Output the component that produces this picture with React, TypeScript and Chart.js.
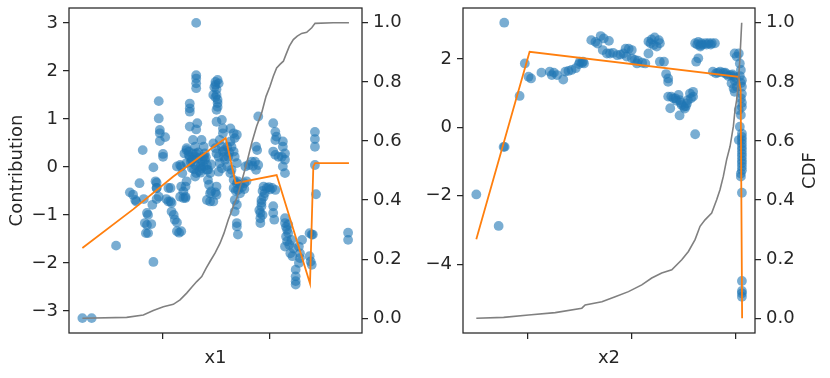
import React, { useEffect, useRef } from 'react';
import { Chart, registerables } from 'chart.js';
Chart.register(...registerables);

const FONT = "'DejaVu Sans', sans-serif";
const INK = '#262626';
const POINT = 'rgba(31,119,180,0.6)';
const ORANGE = '#ff7f0e';
const GREY = '#808080';

// ---------- panel 1 : x1 ----------
const x1Samples = [
  -0.754, -0.667, -0.439, -0.09, -0.19, -0.04, -0.04, -0.03, -0.03, -0.03, 0.02, 0.0, 0.0, -0.09, -0.22,
  -0.31, -0.28, -0.26, -0.25, -0.18, -0.15, -0.14, -0.17, -0.15, -0.11, -0.16, -0.14, -0.07, -0.06, -0.06,
  -0.06, -0.1, 0.03, 0.05, 0.07, 0.08, 0.1, 0.11, 0.13, 0.13, 0.15, 0.17, 0.16, 0.17, 0.17,
  0.19, 0.21, 0.21, 0.18, 0.22, 0.24, 0.25, 0.27, 0.25, 0.25, 0.25, 0.25, 0.31, 0.31, 0.31,
  0.31, 0.31, 0.32, 0.31, 0.28, 0.3, 0.31, 0.33, 0.35, 0.36, 0.31, 0.35, 0.36, 0.38, 0.39,
  0.41, 0.42, 0.44, 0.42, 0.43, 0.41, 0.44, 0.47, 0.45, 0.49, 0.5, 0.49, 0.49, 0.51, 0.52,
  0.5, 0.51, 0.51, 0.5, 0.47, 0.5, 0.47, 0.49, 0.5, 0.52, 0.55, 0.56, 0.56, 0.53, 0.55,
  0.56, 0.57, 0.58, 0.53, 0.55, 0.52, 0.63, 0.66, 0.67, 0.63, 0.64, 0.66, 0.67, 0.69, 0.64,
  0.63, 0.66, 0.69, 0.72, 0.76, 0.78, 0.66, 0.7, 0.72, 0.67, 0.69, 0.67, 0.69, 0.69, 0.7,
  0.77, 0.8, 0.83, 0.84, 0.87, 0.89, 0.86, 0.87, 0.88, 0.89, 0.94, 0.97, 1.02, 1.05, 0.95,
  0.94, 0.92, 0.92, 0.91, 0.91, 0.91, 1.03, 1.05, 1.06, 1.05, 1.03, 1.05, 1.08, 1.11, 1.03,
  1.03, 1.04, 1.12, 1.12, 1.14, 1.14, 1.12, 1.14, 1.14, 1.14, 1.16, 1.15, 1.14, 1.17, 1.2,
  1.19, 1.21, 1.24, 1.24, 1.24, 1.24, 1.27, 1.28, 1.28, 1.3, 1.27, 1.37, 1.39, 1.4, 1.37,
  1.38, 1.39, 1.42, 1.42, 1.42, 1.42, 1.43, 1.73, 1.73, 0.13, 0.27, 0.3, 0.38, 0.39, 0.22,
  0.28, 0.38, 0.22, 0.3, 0.6, 0.61, 0.6, 0.69, 0.22, 0.27, 0.3, 0.35, 0.41, 0.16, 0.19,
  0.21, 0.44, 0.5, -0.06, -0.04, 0.05, 0.07, 0.08,
  0.5, 0.49, 0.51, 0.48, 1.16, 1.18, 1.22, 1.15, 1.17, 0.93, 0.92, 0.9, 0.93, 0.7, 0.74,
  0.68, 0.76, 0.99, 1.0, 0.26, 0.33, 0.37, 0.29, 0.24, 0.4, 0.34, 0.2, 0.45, 0.57, 0.62,
];
const x1Contrib = [
  -3.15, -3.15, -1.64, -1.98, 0.35, 1.37, 1.01, 0.77, 0.7, 0.54, 0.62, 0.27, 0.21, -0.01, -0.34,
  -0.53, -0.58, -0.69, -0.72, -0.67, -0.96, -1.0, -1.17, -1.21, -1.19, -1.38, -1.38, -0.3, -0.33, -0.44,
  -0.67, -0.79, -0.67, -0.72, -0.44, -0.93, -1.0, -1.1, -1.16, -1.34, -1.37, -1.34, 0.04, 0.01, -0.41,
  -0.51, -0.62, -0.65, -0.13, 0.39, 0.32, 0.21, 0.15, 1.32, 1.22, 1.15, 0.84, 3.0, 1.91, 1.84,
  1.74, 1.64, 0.91, 0.78, 0.56, 0.42, 0.28, 0.18, 0.08, -0.03, -0.13, -0.12, 0.56, 0.42, 0.28,
  0.04, -0.06, -0.13, -0.27, -0.37, -0.69, -0.72, -0.72, -0.51, -0.53, -0.41, 1.77, 1.71, 1.81, 1.74,
  1.5, 1.4, 1.33, 1.19, 1.5, 0.94, 0.49, 0.39, 0.28, 0.21, 0.98, 0.8, 0.7, 0.56, 0.42,
  0.32, 0.21, 0.15, 0.08, -0.03, -0.1, 0.8, 0.7, 0.6, 0.53, 0.42, 0.32, 0.21, 0.08, -0.06,
  -0.13, -0.27, -0.34, -0.37, -0.34, -0.3, -0.44, -0.48, -0.55, -0.69, -0.79, -0.93, -1.17, -1.24, -1.41,
  0.01, 0.04, 0.11, 0.02, -0.06, 0.04, 0.11, 0.42, 0.35, 1.05, -0.41, -0.44, -0.44, -0.48, -0.55,
  -0.62, -0.69, -0.82, -0.96, -1.07, -1.17, 0.91, 0.73, 0.63, 0.56, 0.32, 0.25, 0.21, 0.21, -0.82,
  -0.96, -1.1, 0.53, 0.42, 0.28, 0.15, 0.01, -0.13, -1.07, -1.17, -1.31, -1.45, -1.66, -1.38, -1.52,
  -1.8, -1.86, -2.14, -2.28, -2.38, -2.45, -1.66, -1.8, -1.9, -1.52, -2.0, -1.38, -1.41, -1.41, -1.86,
  -1.97, -2.04, 0.73, 0.58, 0.42, 0.04, -0.57, -1.37, -1.52, 0.01, -0.03, 0.04, 0.01, 0.15, 0.08,
  0.28, 0.21, -0.3, -0.2, 0.42, 0.21, 0.01, 0.67, 0.35, 0.15, 0.21, 0.01, -0.06, -0.62, -0.65,
  -0.41, -0.55, -0.58, -0.44, -0.62, -0.44, -0.72, -0.75,
  1.62, 1.45, 1.25, 1.66, -1.55, -1.62, -1.7, -1.25, -1.2, -0.5, -0.75, -0.9, -1.0, -0.3, -0.42,
  -0.5, -0.46, -0.42, -0.47, 0.1, 0.3, 0.12, -0.05, 0.25, 0.2, -0.08, 0.28, 0.05, 0.35, 0.3,
];
const x1PdpX = [-0.754, -0.277, 0.096, 0.346, 0.586, 0.679, 1.062, 1.374, 1.405, 1.421, 1.738];
const x1PdpY = [-1.69, -0.88, -0.2, 0.21, 0.6, -0.34, -0.17, -2.43, 0.01, 0.08, 0.08];
const x1CdfX = [
  -0.754, -0.34, -0.184, -0.091, 0.003, 0.096, 0.159, 0.221, 0.268, 0.315, 0.362, 0.402, 0.439, 0.486,
  0.533, 0.57, 0.61, 0.657, 0.695, 0.735, 0.782, 0.829, 0.875, 0.922, 0.963, 1.0, 1.031, 1.062,
  1.093, 1.125, 1.15, 1.181, 1.218, 1.255, 1.296, 1.343, 1.39, 1.421, 1.592, 1.738,
];
const x1CdfY = [
  0.0, 0.003, 0.011, 0.026, 0.039, 0.047, 0.062, 0.085, 0.105, 0.124, 0.141, 0.169, 0.192, 0.22,
  0.254, 0.288, 0.333, 0.378, 0.412, 0.463, 0.525, 0.593, 0.65, 0.695, 0.751, 0.785, 0.819, 0.847,
  0.859, 0.87, 0.893, 0.921, 0.943, 0.955, 0.964, 0.968, 0.983, 0.998, 1.0, 1.0,
];
const x1TickValues = [0, 1];
const contrib1Ticks = [-3, -2, -1, 0, 1, 2, 3];

// ---------- panel 2 : x2 ----------
const x2Samples = [
  -0.497, -0.282, -0.228, -0.234, -0.224, -0.08, -0.03, 0.006, 0.03, 0.13, 0.21, 0.25, 0.28, 0.23, 0.34,
  0.36, 0.39, 0.42, 0.46, 0.49, 0.52, 0.54, 0.5, 0.53, 0.61, 0.65, 0.67, 0.7, 0.73, 0.78,
  0.72, 0.76, 0.79, 0.82, 0.86, 0.89, 0.92, 0.94, 0.97, 1.0, 0.95, 1.0, 1.03, 1.06, 1.1,
  1.13, 1.05, 1.16, 1.18, 1.19, 1.22, 1.26, 1.27, 1.21, 1.24, 1.16, 1.27, 1.31, 1.33, 1.35,
  1.35, 1.35, 1.38, 1.42, 1.45, 1.37, 1.46, 1.48, 1.5, 1.53, 1.46, 1.51, 1.54, 1.56, 1.59,
  1.59, 1.61, 1.61, 1.64, 1.67, 1.71, 1.74, 1.77, 1.8, 1.62, 1.64, 1.66, 1.78, 1.81, 1.85,
  1.88, 1.91, 1.95, 1.98, 1.99, 1.96, 1.98, 1.99, 2.01, 1.99, 2.01, 2.03, 2.04, 2.05, 2.06,
  2.06, 2.05, 2.06, 2.05, 2.06, 2.06, 2.06, 2.06, 2.06, 2.06, 2.05, 2.06, 2.03, 2.04, 2.03,
  2.06, 2.06, 2.06, 2.06, 2.06, 2.06, 2.06, 2.06, 2.06, 2.06, 2.05, 2.04, 2.05, 2.06, 2.06,
  1.63, 1.68, 1.72, 1.76, 1.66, 1.83, 1.9, 1.93, 1.97, 2.0, 1.4, 1.47, 1.52, 1.57, 1.43,
];
const x2Contrib = [
  -1.96, -2.88, 3.06, -0.57, -0.57, 0.92, 1.87, 1.48, 1.43, 1.6, 1.63, 1.6, 1.53, 1.53, 1.4,
  1.63, 1.65, 1.68, 1.73, 1.85, 1.89, 1.87, 1.92, 1.92, 2.55, 2.5, 2.45, 2.67, 2.6, 2.53,
  2.26, 2.16, 2.16, 2.18, 2.11, 2.13, 2.16, 2.3, 2.3, 2.26, 2.07, 2.02, 1.97, 1.95, 1.89,
  1.87, 1.87, 2.16, 2.46, 2.57, 2.63, 2.55, 2.46, 2.41, 2.36, 2.51, 1.92, 1.92, 1.56, 1.43,
  1.33, 0.9, 0.9, 0.85, 0.95, 0.56, 0.8, 0.65, 0.6, 0.7, 0.35, 0.55, 0.8, 0.99, 1.04,
  0.9, -0.2, 2.46, 2.5, 2.46, 2.46, 2.46, 2.46, 2.46, 1.92, 2.02, 2.36, 1.63, 1.58, 1.63,
  1.6, 1.56, 1.53, 1.5, 1.38, 1.29, 1.14, 1.04, 1.19, 2.16, 2.07, 2.16, 1.87, 1.68, 1.38,
  1.19, 0.85, 0.6, 0.36, -0.18, -0.37, -0.57, -0.76, -0.96, -1.15, -1.44, -1.91, 0.51, 0.02, -0.37,
  -4.49, -4.78, -4.85, -4.95, -0.28, -0.47, -0.66, -0.86, -1.05, -1.25, -1.35, 1.5, 1.3, 0.98, 0.72,
  2.42, 2.42, 2.42, 2.42, 2.4, 1.6, 1.6, 1.5, 1.55, 1.45, 0.85, 0.72, 0.62, 0.85, 0.78,
];
const x2PdpX = [-0.497, 0.016, 2.026, 2.048, 2.062];
const x2PdpY = [-3.27, 2.21, 1.48, 1.09, -5.58];
const x2CdfX = [
  -0.497, -0.234, 0.006, 0.263, 0.519, 0.551, 0.712, 0.84, 0.968, 1.096, 1.192, 1.288, 1.385, 1.481,
  1.545, 1.609, 1.657, 1.705, 1.769, 1.817, 1.849, 1.881, 1.913, 1.946, 1.978, 1.994, 2.01, 2.026,
  2.042, 2.058,
];
const x2CdfY = [
  0.0, 0.003, 0.011, 0.019, 0.034, 0.045, 0.056, 0.073, 0.09, 0.113, 0.136, 0.153, 0.164, 0.198,
  0.226, 0.266, 0.311, 0.333, 0.356, 0.401, 0.435, 0.48, 0.537, 0.582, 0.65, 0.706, 0.74, 0.797,
  0.887, 1.0,
];
const x2TickValues = [0, 1, 2];
const contrib2Ticks = [-4, -2, 0, 2];
const cdfTicks = [0, 0.2, 0.4, 0.6, 0.8, 1.0];

// ---------- helpers ----------
const zip = (xs: number[], ys: number[]) => xs.map((x, i) => ({ x, y: ys[i] }));
const fmtSigned = (v: number) => (v < 0 ? '\u2212' + Math.abs(v) : String(v));

const font = { family: FONT, size: 18 };

const gridOpts = {
  display: true,
  drawOnChartArea: false,
  drawTicks: true,
  tickLength: 6,
  tickWidth: 1.25,
  tickColor: INK,
  color: INK,
  lineWidth: 1.25,
};

const framePlugin = {
  id: 'frame',
  afterDraw(chart: any, _args: any, opts: any) {
    const { ctx, chartArea: a } = chart;
    ctx.save();
    ctx.strokeStyle = INK;
    ctx.lineWidth = 1.25;
    ctx.strokeRect(a.left, a.top, a.right - a.left, a.bottom - a.top);
    if (opts && opts.rightTitle) {
      ctx.translate(opts.rightTitleX, (a.top + a.bottom) / 2);
      ctx.rotate(-Math.PI / 2);
      ctx.font = `18px ${FONT}`;
      ctx.fillStyle = INK;
      ctx.textAlign = 'center';
      ctx.textBaseline = 'middle';
      ctx.fillText(opts.rightTitle, 0, 0);
    }
    ctx.restore();
  },
};

type PanelSpec = {
  xs: number[];
  ys: number[];
  pdpX: number[];
  pdpY: number[];
  cdfX: number[];
  cdfY: number[];
  xTicks: number[];
  yTicks: number[];
  xMin: number;
  xMax: number;
  yMin: number;
  yMax: number;
  xLabel: string;
  yLabel: string;
  rightLabel: string;
  leftW: number;
  rightW: number;
};

function buildConfig(p: PanelSpec): any {
  const zero = (s: any) => {
    s.paddingTop = 0;
    s.paddingBottom = 0;
    s.paddingLeft = 0;
    s.paddingRight = 0;
  };
  return {
    type: 'scatter',
    data: {
      datasets: [
        {
          type: 'line',
          data: zip(p.cdfX, p.cdfY),
          yAxisID: 'y2',
          borderColor: GREY,
          borderWidth: 1.6,
          pointRadius: 0,
          tension: 0,
          fill: false,
          order: 0,
        },
        {
          type: 'line',
          data: zip(p.pdpX, p.pdpY),
          yAxisID: 'y',
          borderColor: ORANGE,
          borderWidth: 1.8,
          pointRadius: 0,
          tension: 0,
          fill: false,
          order: 1,
        },
        {
          type: 'scatter',
          data: zip(p.xs, p.ys),
          yAxisID: 'y',
          backgroundColor: POINT,
          borderWidth: 0,
          pointRadius: 4.9,
          order: 2,
        },
      ],
    },
    options: {
      animation: false,
      responsive: false,
      devicePixelRatio: 1,
      events: [],
      layout: { padding: { top: 8, left: 0, right: 0, bottom: 0 } },
      plugins: {
        legend: { display: false },
        tooltip: { enabled: false },
        frame: { rightTitle: p.rightLabel, rightTitleX: 415 - 20 },
      },
      scales: {
        x: {
          type: 'linear',
          position: 'bottom',
          min: p.xMin,
          max: p.xMax,
          afterBuildTicks: (s: any) => {
            s.ticks = p.xTicks.map((v) => ({ value: v }));
          },
          ticks: { callback: () => '', padding: 0, font, color: INK, maxRotation: 0, autoSkip: false },
          grid: gridOpts,
          border: { display: false },
          title: {
            display: true,
            text: p.xLabel,
            font,
            color: INK,
            padding: { top: 0, bottom: 9 },
          },
          afterFit: (s: any) => {
            s.height = 45;
            zero(s);
          },
        },
        y: {
          type: 'linear',
          position: 'left',
          min: p.yMin,
          max: p.yMax,
          afterBuildTicks: (s: any) => {
            s.ticks = p.yTicks.map((v) => ({ value: v }));
          },
          ticks: { callback: (v: any) => fmtSigned(Number(v)), padding: 5, font, color: INK, autoSkip: false },
          grid: gridOpts,
          border: { display: false },
          title: {
            display: p.yLabel !== '',
            text: p.yLabel,
            font,
            color: INK,
            padding: { top: 6.5, bottom: 0 },
          },
          afterFit: (s: any) => {
            s.width = p.leftW;
            zero(s);
          },
        },
        y2: {
          type: 'linear',
          position: 'right',
          min: -0.05,
          max: 1.05,
          afterBuildTicks: (s: any) => {
            s.ticks = cdfTicks.map((v) => ({ value: v }));
          },
          ticks: { callback: (v: any) => Number(v).toFixed(1), padding: 5, font, color: INK, autoSkip: false },
          grid: gridOpts,
          border: { display: false },
          afterFit: (s: any) => {
            s.width = p.rightW;
            zero(s);
          },
        },
      },
    },
    plugins: [framePlugin],
  };
}

function Panel({ spec, left }: { spec: PanelSpec; left: number }) {
  const ref = useRef<HTMLCanvasElement>(null);
  useEffect(() => {
    if (!ref.current) return;
    const chart = new Chart(ref.current, buildConfig(spec));
    return () => chart.destroy();
  }, []);
  return (
    <canvas
      ref={ref}
      width={415}
      height={378}
      style={{ position: 'absolute', left, top: 0, width: 415, height: 378, display: 'block' }}
    />
  );
}

const panel1: PanelSpec = {
  xs: x1Samples,
  ys: x1Contrib,
  pdpX: x1PdpX,
  pdpY: x1PdpY,
  cdfX: x1CdfX,
  cdfY: x1CdfY,
  xTicks: x1TickValues,
  yTicks: contrib1Ticks,
  xMin: -0.879,
  xMax: 1.86,
  yMin: -3.46,
  yMax: 3.31,
  xLabel: 'x1',
  yLabel: 'Contribution',
  rightLabel: '',
  leftW: 69,
  rightW: 53,
};

const panel2: PanelSpec = {
  xs: x2Samples,
  ys: x2Contrib,
  pdpX: x2PdpX,
  pdpY: x2PdpY,
  cdfX: x2CdfX,
  cdfY: x2CdfY,
  xTicks: x2TickValues,
  yTicks: contrib2Ticks,
  xMin: -0.625,
  xMax: 2.186,
  yMin: -6.01,
  yMax: 3.49,
  xLabel: 'x2',
  yLabel: '',
  rightLabel: 'CDF',
  leftW: 48,
  rightW: 75,
};

export default function App() {
  return (
    <div style={{ position: 'absolute', left: 0, top: 0, width: 830, height: 378, background: '#fff' }}>
      <Panel spec={panel1} left={0} />
      <Panel spec={panel2} left={415} />
    </div>
  );
}
